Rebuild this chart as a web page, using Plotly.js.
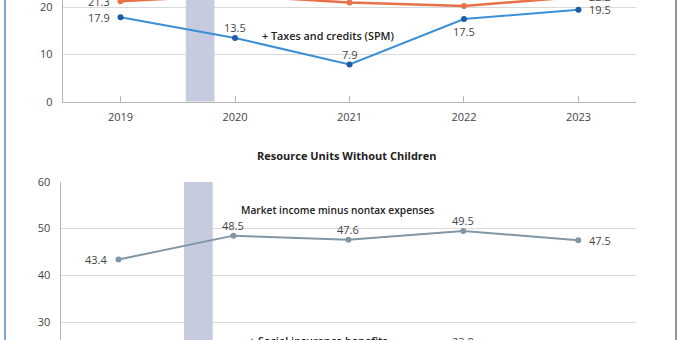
<!DOCTYPE html>
<html>
<head>
<meta charset="utf-8">
<script src="https://cdn.plot.ly/plotly-3.0.1.min.js"></script>
<style>
  html, body { margin: 0; padding: 0; width: 680px; height: 340px; overflow: hidden; background: #fff; }
  #chart { position: absolute; left: 0; top: -50px; width: 680px; height: 540px; }
</style>
</head>
<body>
<div id="chart"></div>
<script>
// ---- data ----
const years = [2019, 2020, 2021, 2022, 2023];
const yearLabels = ["2019", "2020", "2021", "2022", "2023"];

// Panel 1 (resource units with children, partially visible)
const withChildrenSocialInsurance = [21.3, 22.5, 21.0, 20.3, 22.2];
const withChildrenTaxesCredits = [17.9, 13.5, 7.9, 17.5, 19.5];

// Panel 2: Resource Units Without Children
const withoutChildrenMarketIncome = [43.4, 48.5, 47.6, 49.5, 47.5];
const withoutChildrenSocialInsurance = [19.4, 22.1, 22.6, 23.8, 22.9];

// shaded break band (in years)
const bandStart = 2019.57;
const bandEnd = 2019.82;

const panelTitle = "Resource Units Without Children";
const labelTaxes = "+ Taxes and credits (SPM)";
const labelMarket = "Market income minus nontax expenses";
const labelSocial = "+ Social insurance benefits";

// ---- styles ----
const ORANGE = "#e9714a";
const BLUE = "#3a8fd6";
const BLUE_DARK = "#1f5aa6";
const GRAY = "#8297a6";
const BAND = "#c6cbe0";
const FONT = "Open Sans, sans-serif";
const TOP_RANGE = [0, 30];
const BOTTOM_RANGE = [0, 60];

function lineTrace(xs, ys, color, mcolor, width, xa, ya) {
  return {
    x: xs, y: ys, xaxis: xa, yaxis: ya, type: "scatter", mode: "lines+markers",
    line: { color: color, width: width },
    marker: { color: mcolor, size: 6 },
    hoverinfo: "skip", showlegend: false, cliponaxis: false
  };
}

function bandTrace(range, xa, ya) {
  return {
    type: "bar", x: [(bandStart + bandEnd) / 2], y: [range[1] - range[0]], base: [range[0]],
    width: [bandEnd - bandStart], xaxis: xa, yaxis: ya,
    marker: { color: BAND, line: { width: 0 } },
    hoverinfo: "skip", showlegend: false
  };
}

const shiftFor = {
  L: { xanchor: "right", yanchor: "middle", xshift: -9, yshift: 0 },
  R: { xanchor: "left", yanchor: "middle", xshift: 9, yshift: 0 },
  T: { xanchor: "center", yanchor: "middle", xshift: 0, yshift: 10 },
  B: { xanchor: "center", yanchor: "middle", xshift: 0, yshift: -12 }
};

function valueLabels(xs, ys, pos, xref, yref) {
  return xs.map((x, i) => Object.assign({
    x: x, y: ys[i], xref: xref, yref: yref, text: ys[i].toFixed(1),
    showarrow: false, font: { family: FONT, size: 11, color: "#444" }
  }, shiftFor[pos[i]]));
}

const traces = [
  bandTrace(TOP_RANGE, "x", "y"),
  bandTrace(BOTTOM_RANGE, "x2", "y2"),
  lineTrace(years, withChildrenSocialInsurance, ORANGE, ORANGE, 2.5, "x", "y"),
  lineTrace(years, withChildrenTaxesCredits, BLUE, BLUE_DARK, 2, "x", "y"),
  lineTrace(years, withoutChildrenMarketIncome, GRAY, GRAY, 2, "x2", "y2"),
  lineTrace(years, withoutChildrenSocialInsurance, ORANGE, ORANGE, 2.5, "x2", "y2")
];

const annotations = [].concat(
  valueLabels(years, withChildrenSocialInsurance, ["L", "T", "T", "T", "R"], "x", "y"),
  valueLabels(years, withChildrenTaxesCredits, ["L", "T", "T", "B", "R"], "x", "y"),
  valueLabels(years, withoutChildrenMarketIncome, ["L", "T", "T", "T", "R"], "x2", "y2"),
  valueLabels(years, withoutChildrenSocialInsurance, ["L", "T", "T", "T", "R"], "x2", "y2"),
  [
    { text: panelTitle, xref: "paper", yref: "paper", x: 347 / 680, y: 1 - 205 / 540,
      xanchor: "center", yanchor: "middle", showarrow: false,
      font: { family: FONT, size: 11, color: "#222", weight: 700 } },
    { text: labelTaxes, xref: "x", yref: "y", x: 2020.22, y: 14.1,
      xanchor: "left", yanchor: "middle", showarrow: false,
      font: { family: FONT, size: 10.8, color: "#222", weight: 600 } },
    { text: labelMarket, xref: "x2", yref: "y2", x: 2020.05, y: 53.9,
      xanchor: "left", yanchor: "middle", showarrow: false,
      font: { family: FONT, size: 10.2, color: "#222", weight: 600 } },
    { text: labelSocial, xref: "x2", yref: "y2", x: 2020.12, y: 26.2,
      xanchor: "left", yanchor: "middle", showarrow: false,
      font: { family: FONT, size: 10.8, color: "#222", weight: 600 } }
  ]
);

const xBase = {
  range: [2018.5, 2023.5], tickvals: years, ticktext: yearLabels,
  ticks: "inside", ticklen: 6, tickcolor: "#b5b5b5", tickwidth: 1,
  showline: true, linecolor: "#b5b5b5", linewidth: 1.5,
  showgrid: false, zeroline: false, fixedrange: true,
  tickfont: { family: FONT, size: 11, color: "#444" }, ticklabelstandoff: 5
};
const yBase = {
  dtick: 10, tick0: 0, showgrid: true, gridcolor: "#d9d9d9", gridwidth: 1,
  showline: true, linecolor: "#b5b5b5", linewidth: 1.5, ticks: "",
  zeroline: false, fixedrange: true,
  tickfont: { family: FONT, size: 11, color: "#444" }, ticklabelstandoff: 7
};

const layout = {
  width: 680, height: 540,
  margin: { l: 0, r: 0, t: 0, b: 0 },
  paper_bgcolor: "#fff", plot_bgcolor: "#fff",
  showlegend: false, barmode: "overlay",
  xaxis: Object.assign({}, xBase, { domain: [63.3 / 680, 635.7 / 680], anchor: "y" }),
  yaxis: Object.assign({}, yBase, { domain: [1 - 151.7 / 540, 1 - 10.1 / 540], range: TOP_RANGE, anchor: "x" }),
  xaxis2: Object.assign({}, xBase, { domain: [61 / 680, 635.7 / 680], anchor: "y2" }),
  yaxis2: Object.assign({}, yBase, { domain: [1 - 513.1 / 540, 1 - 231.7 / 540], range: BOTTOM_RANGE, anchor: "x2" }),
  shapes: [
    { type: "line", xref: "paper", yref: "paper", x0: 5 / 680, x1: 5 / 680, y0: 0, y1: 1,
      line: { color: "#7ea7d8", width: 2 } },
    { type: "line", xref: "paper", yref: "paper", x0: 676 / 680, x1: 676 / 680, y0: 0, y1: 1,
      line: { color: "#8b97a5", width: 2 } }
  ],
  annotations: annotations
};

Plotly.newPlot("chart", traces, layout, { staticPlot: true, displayModeBar: false });
</script>
</body>
</html>
